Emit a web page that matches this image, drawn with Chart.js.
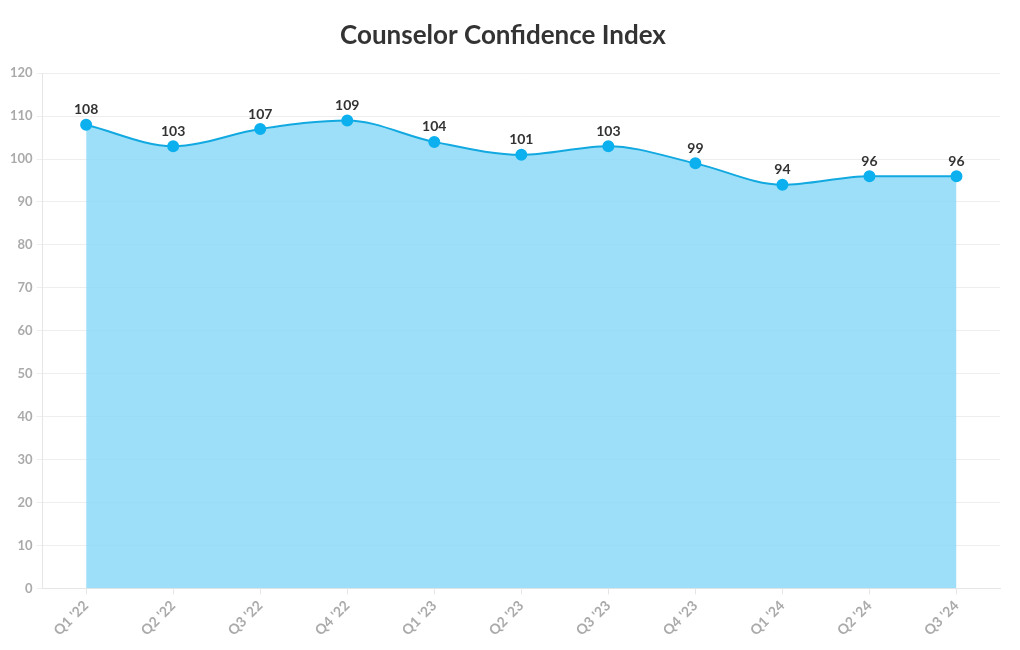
<!DOCTYPE html>
<html>
<head>
<meta charset="utf-8">
<script src="https://cdn.jsdelivr.net/npm/chart.js@4"></script>
<style>
  html, body { margin: 0; padding: 0; background: #fff; }
  #wrap { width: 1020px; height: 650px; }
</style>
</head>
<body>
<div id="wrap"><canvas id="chart" width="1020" height="650"></canvas></div>
<script>
const quarters = ["Q1 '22", "Q2 '22", "Q3 '22", "Q4 '22", "Q1 '23", "Q2 '23", "Q3 '23", "Q4 '23", "Q1 '24", "Q2 '24", "Q3 '24"];
const confidence = [108, 103, 107, 109, 104, 101, 103, 99, 94, 96, 96];
const yTicks = [0, 10, 20, 30, 40, 50, 60, 70, 80, 90, 100, 110, 120];

// labels above each point
const pointLabels = {
  id: "pointLabels",
  afterDatasetsDraw(chart) {
    const ctx = chart.ctx;
    const meta = chart.getDatasetMeta(0);
    ctx.save();
    ctx.font = "bold 14px Lato, 'Noto Sans', sans-serif";
    ctx.fillStyle = "#333";
    ctx.textAlign = "center";
    ctx.textBaseline = "bottom";
    meta.data.forEach((pt, i) => {
      ctx.fillText(confidence[i], pt.x, pt.y - 8);
    });
    ctx.restore();
  }
};

new Chart(document.getElementById("chart"), {
  type: "line",
  data: {
    labels: quarters,
    datasets: [{
      data: confidence,
      borderColor: "#12a9e1",
      borderWidth: 2,
      backgroundColor: "rgba(135, 216, 247, 0.82)",
      fill: "origin",
      cubicInterpolationMode: "monotone",
      pointRadius: 5,
      pointHoverRadius: 5,
      pointBackgroundColor: "#0cb0ee",
      pointBorderColor: "#0cb0ee"
    }]
  },
  options: {
    responsive: false,
    animation: false,
    layout: { padding: { left: 6, right: 20, top: 0, bottom: 8 } },
    plugins: {
      legend: { display: false },
      tooltip: { enabled: false },
      title: {
        display: true,
        text: "Counselor Confidence Index",
        color: "#333",
        font: { family: "Lato, 'Noto Sans', sans-serif", size: 26, weight: "bold" },
        padding: { top: 20, bottom: 22 }
      }
    },
    scales: {
      x: {
        offset: true,
        grid: { drawOnChartArea: false, color: "#e6e6e6", tickLength: 6 },
        border: { color: "#e6e6e6" },
        ticks: {
          color: "#aaa",
          maxRotation: 45,
          minRotation: 45,
          font: { family: "Lato, 'Noto Sans', sans-serif", size: 14, weight: "bold" }
        }
      },
      y: {
        min: 0,
        max: 120,
        afterBuildTicks(axis) { axis.ticks = yTicks.map(v => ({ value: v })); },
        grid: { color: "#eeeeee", tickLength: 6 },
        border: { color: "#e6e6e6" },
        ticks: {
          color: "#aaa",
          padding: 4,
          font: { family: "Lato, 'Noto Sans', sans-serif", size: 13, weight: "bold" }
        }
      }
    }
  },
  plugins: [pointLabels]
});
</script>
</body>
</html>
